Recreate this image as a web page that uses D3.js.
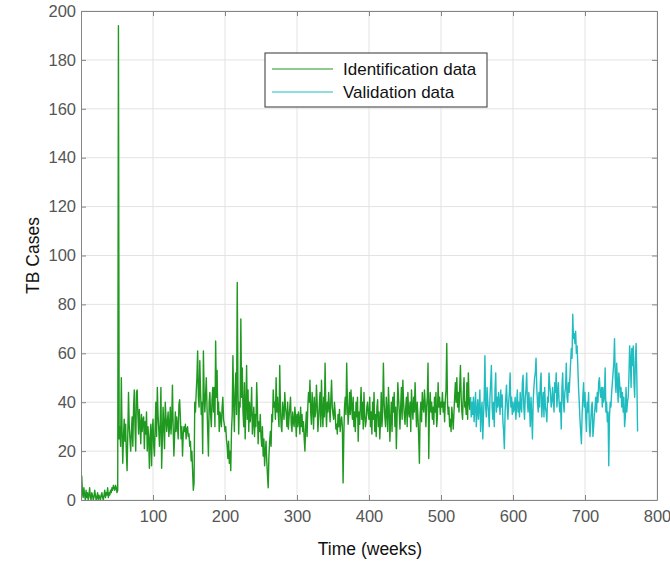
<!DOCTYPE html>
<html>
<head>
<meta charset="utf-8">
<script src="https://cdn.jsdelivr.net/npm/d3@7"></script>
<style>
  body { margin: 0; background: #fff; }
  #chart { width: 670px; height: 565px; }
</style>
</head>
<body>
<div id="chart"></div>
<script>
// weekly TB case counts
const identification = [
  10, 3, 1, 5, 2, 0, 4, 1, 3, 0, 2, 5, 1, 0, 3, 2, 0, 1, 4, 2,
  0, 1, 3, 0, 2, 1, 0, 2, 3, 1, 0, 2, 4, 1, 3, 2, 5, 1, 3, 2,
  4, 3, 5, 4, 6, 5, 4, 6, 5, 3, 4,
  194,
  25, 30, 22, 50, 28, 15, 26, 33,
  24, 31, 19, 12, 27, 44, 30, 25, 20, 28, 34, 22, 38, 45, 30, 20, 44, 45, 35, 27,
  37, 31, 23, 35, 28, 33, 34, 21, 32, 27, 36, 20, 30, 25, 13, 26, 31, 14, 28, 33,
  22, 18, 30, 40, 26, 46, 35, 29, 22, 31, 46, 13, 25, 38, 30, 21, 40, 34, 28, 32,
  36, 26, 30, 38, 27, 33, 47, 30, 18, 26, 36, 28, 34, 30, 25, 39, 41, 34, 25, 30,
  18, 27, 30, 28, 31, 25, 29, 30, 26, 27, 22, 24, 16, 20, 12, 4, 7,
  40, 36, 44, 50, 61, 42, 38, 57, 45, 35, 40, 19, 61, 44, 36, 43, 50, 38, 28, 18, 40, 44, 35,
  30, 41, 46, 36, 46, 30, 65, 42, 53, 35, 40, 28, 36, 34, 30, 38, 42, 33, 31, 28,
  30, 25, 22, 17, 24, 15, 20, 12, 28, 35, 59, 40, 28, 44, 52, 35, 89, 45, 27, 40,
  38, 74, 42, 54, 36, 30, 48, 25, 38, 55, 33, 45, 28, 40, 32, 36, 46, 27, 32, 38,
  26, 35, 30, 48, 38, 23, 32, 28, 35, 26, 22, 30, 18, 25, 14, 20, 24, 16, 10, 5,
  18, 24, 28, 22, 35, 32, 45, 38, 40, 33, 50, 36, 42, 35, 30, 55, 38, 30, 28, 40,
  36, 33, 44, 38, 35, 30, 40, 29, 34, 38, 42, 31, 28, 36, 32, 30, 38, 34, 26, 35,
  30, 36, 33, 27, 38, 30, 35, 28, 32, 25, 20, 30, 36, 26, 38, 44, 40, 49, 36, 31,
  44, 38, 29, 42, 34, 36, 47, 40, 28, 33, 39, 44, 30, 49, 36, 30, 42, 34, 56, 38,
  30, 40, 36, 44, 38, 32, 41, 49, 38, 35, 33, 40, 36, 29, 31, 27, 35, 30, 37, 28,
  32, 34, 30, 7, 26, 38, 42, 35, 56, 40, 31, 36, 44, 35, 45, 38, 33, 42, 30, 36,
  28, 40, 34, 42, 24, 36, 31, 38, 46, 33, 40, 29, 44, 35, 30, 32, 38, 40, 35, 33,
  42, 30, 36, 27, 40, 33, 44, 28, 35, 26, 38, 41, 30, 36, 25, 32, 44, 30, 36, 56,
  40, 34, 30, 42, 36, 28, 46, 38, 24, 33, 40, 28, 42, 36, 44, 30, 38, 21, 34, 48,
  42, 36, 29, 38, 46, 33, 49, 40, 35, 31, 38, 42, 30, 44, 36, 34, 40, 28, 45, 38,
  33, 42, 36, 48, 38, 30, 40, 34, 26, 15, 35, 40, 32, 44, 38, 36, 45, 40, 30, 38,
  42, 56, 17, 38, 44, 36, 40, 33, 38, 31, 42, 36, 44, 30, 34, 48, 38, 42, 35, 40,
  38, 44, 36, 40, 32, 41, 45, 64, 40, 35, 38, 30, 33, 28, 38, 34, 29, 36, 42, 48,
  40, 50, 38, 44, 36, 46, 55, 42, 36, 33, 44, 50, 38, 40, 35, 48, 33, 52, 40, 37, 42
];

const validation = [
  34, 40, 35, 42, 32, 38, 44, 30, 36, 41, 33, 38, 45, 28, 36, 40, 25, 34, 42,
  59, 38, 34, 46, 40, 36, 30, 42, 48, 55, 38, 33, 40, 30, 45, 52, 36, 42, 38, 44,
  40, 35, 45, 38, 43, 32, 28, 21, 36, 42, 47, 38, 33, 40, 44, 52, 38, 42, 35, 40,
  36, 38, 42, 33, 39, 45, 36, 40, 34, 44, 38, 36, 48, 51, 38, 33, 42, 45, 52, 40,
  36, 44, 38, 30, 42, 35, 25, 40, 46, 50, 52, 58, 46, 40, 36, 44, 38, 48, 52, 34,
  40, 44, 34, 46, 38, 36, 32, 42, 40, 52, 47, 44, 38, 40, 46, 41, 36, 48, 44, 52,
  38, 44, 48, 40, 36, 40, 29, 46, 52, 40, 36, 44, 46, 56, 42, 40, 48, 44, 50, 56,
  62, 58, 76, 66, 68, 64, 69, 60, 63, 55, 46, 40, 33, 28, 23, 35, 42, 48, 38, 44,
  34, 28, 40, 36, 44, 30, 26, 32, 38, 40, 26, 30, 35, 38, 42, 36, 44, 40, 48, 50,
  44, 42, 46, 38, 46, 40, 42, 54, 36, 40, 32, 36, 14, 34, 40, 38, 44, 48, 52, 56,
  66, 50, 44, 56, 48, 40, 52, 48, 42, 46, 38, 44, 36, 42, 30, 34, 46, 36, 40, 42,
  50, 63, 58, 46, 62, 55, 63, 48, 42, 58, 64, 50, 28
];

const xTicks = [100, 200, 300, 400, 500, 600, 700, 800];
const yTicks = [0, 20, 40, 60, 80, 100, 120, 140, 160, 180, 200];
const seriesNames = ['Identification data', 'Validation data'];
const seriesColors = ['#1f991f', '#1fbcc0'];

const W = 670, H = 565;
const margin = { top: 11, right: 13, bottom: 65, left: 81 };
const plotW = W - margin.left - margin.right;
const plotH = H - margin.top - margin.bottom;

const x = d3.scaleLinear().domain([0, 800]).range([0, plotW]);
const y = d3.scaleLinear().domain([0, 200]).range([plotH, 0]);

const svg = d3.select('#chart').append('svg')
  .attr('width', W).attr('height', H)
  .style('font-family', 'Arial, "Liberation Sans", Helvetica, sans-serif');

const g = svg.append('g').attr('transform', `translate(${margin.left},${margin.top})`);

// ── grid ───────────────────────────────────────────────────────────────────
g.append('g').selectAll('line').data(xTicks).join('line')
  .attr('x1', d => x(d)).attr('x2', d => x(d))
  .attr('y1', 0).attr('y2', plotH)
  .attr('stroke', '#e3e3e3').attr('stroke-width', 1);
g.append('g').selectAll('line').data(yTicks).join('line')
  .attr('x1', 0).attr('x2', plotW)
  .attr('y1', d => y(d)).attr('y2', d => y(d))
  .attr('stroke', '#e3e3e3').attr('stroke-width', 1);

// ── data lines ─────────────────────────────────────────────────────────────
const idPts = identification.map((v, i) => [i + 1, v]);
const valStart = identification.length;
const valPts = [[valStart, identification[valStart - 1]]]
  .concat(validation.map((v, i) => [valStart + 1 + i, v]));

const line = d3.line().x(d => x(d[0])).y(d => y(d[1]));

g.append('path').datum(idPts)
  .attr('d', line).attr('fill', 'none')
  .attr('stroke', seriesColors[0]).attr('stroke-width', 1.4)
  .attr('stroke-linejoin', 'round');
g.append('path').datum(valPts)
  .attr('d', line).attr('fill', 'none')
  .attr('stroke', seriesColors[1]).attr('stroke-width', 1.4)
  .attr('stroke-linejoin', 'round');

// ── axes (box with inward ticks on all sides) ─────────────────────────────
const axisColor = '#858585';
const tickColor = '#555';

function styleAxis(sel) {
  sel.select('.domain').attr('stroke', axisColor);
  sel.selectAll('.tick line').attr('stroke', axisColor);
  sel.selectAll('.tick text').attr('fill', tickColor).attr('font-size', '16.5px')
    .attr('font-family', 'Arial, "Liberation Sans", sans-serif');
}

g.append('g').attr('transform', `translate(0,${plotH})`)
  .call(d3.axisBottom(x).tickValues(xTicks).tickSize(-5).tickPadding(10).tickSizeOuter(0))
  .call(styleAxis);
g.append('g')
  .call(d3.axisTop(x).tickValues(xTicks).tickSize(-5).tickFormat('').tickSizeOuter(0))
  .call(styleAxis);
g.append('g')
  .call(d3.axisLeft(y).tickValues(yTicks).tickSize(-5).tickPadding(5).tickSizeOuter(0))
  .call(styleAxis);
g.append('g').attr('transform', `translate(${plotW},0)`)
  .call(d3.axisRight(y).tickValues(yTicks).tickSize(-5).tickFormat('').tickSizeOuter(0))
  .call(styleAxis);

// ── axis labels ────────────────────────────────────────────────────────────
svg.append('text')
  .attr('x', margin.left + plotW / 2 + 1).attr('y', 555)
  .attr('text-anchor', 'middle').attr('font-size', '17.5px').attr('fill', '#111')
  .text('Time (weeks)');
svg.append('text')
  .attr('transform', `translate(39,${margin.top + plotH / 2}) rotate(-90)`)
  .attr('text-anchor', 'middle').attr('font-size', '17.5px').attr('fill', '#111')
  .text('TB Cases');

// ── legend ─────────────────────────────────────────────────────────────────
const leg = svg.append('g').attr('transform', 'translate(265,53)');
leg.append('rect')
  .attr('width', 222).attr('height', 54)
  .attr('fill', '#fff').attr('stroke', '#333').attr('stroke-width', 1);
seriesNames.forEach((name, i) => {
  const cy = 16 + i * 23;
  leg.append('line')
    .attr('x1', 7).attr('x2', 68).attr('y1', cy).attr('y2', cy)
    .attr('stroke', seriesColors[i]).attr('stroke-width', 1.2);
  leg.append('text')
    .attr('x', 78).attr('y', cy).attr('dominant-baseline', 'central')
    .attr('font-size', '17px').attr('fill', '#111')
    .text(name);
});
</script>
</body>
</html>
